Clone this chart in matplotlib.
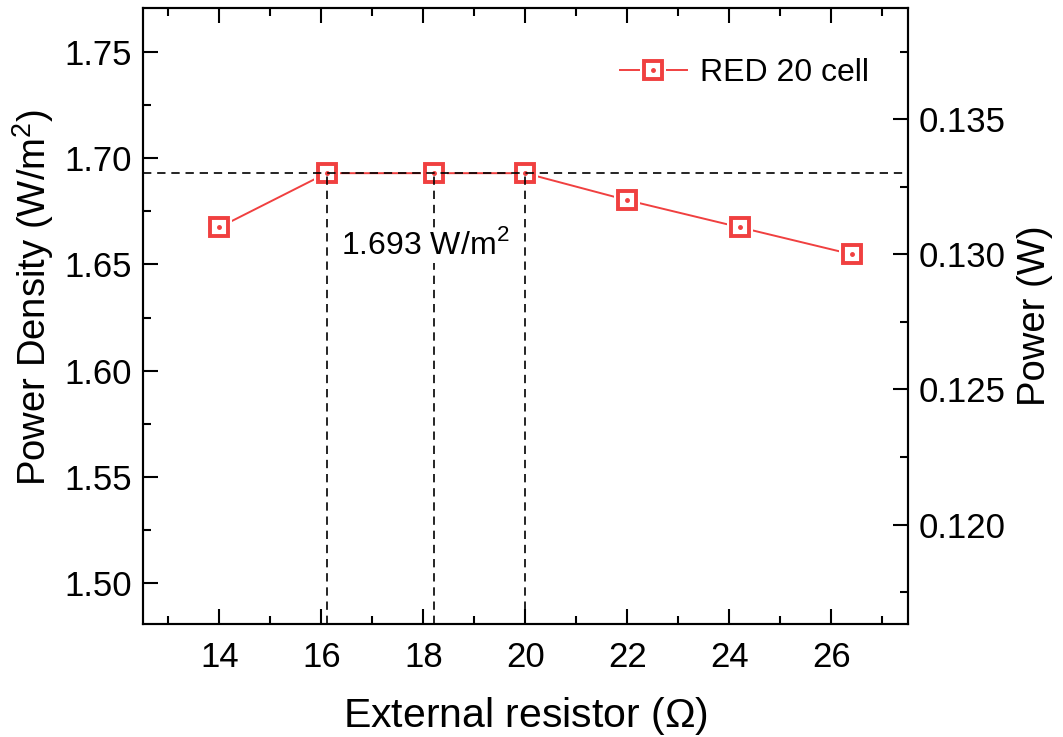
import numpy as np
import matplotlib
matplotlib.use('Agg')
import matplotlib.pyplot as plt
from matplotlib.ticker import MultipleLocator, FormatStrFormatter
from matplotlib.legend_handler import HandlerTuple

plt.rcParams['font.family'] = ['Liberation Sans', 'DejaVu Sans']
plt.rcParams['mathtext.fontset'] = 'custom'
plt.rcParams['mathtext.rm'] = 'Liberation Sans'

# data
resistor = [14, 16.1, 18.2, 20, 22, 24.2, 26.4]
power = [0.131, 0.133, 0.133, 0.133, 0.132, 0.131, 0.130]
area = 0.07856
density = [p / area for p in power]
peak_x = [16.1, 18.2, 20]
peak = 1.693

red = '#F04040'
dash = (0, (5, 3.5))

fig = plt.figure(figsize=(10.63, 7.37), dpi=100)
ax = fig.add_axes([0.1345, 0.1533, 0.7195, 0.8357])

ylim = (1.4807, 1.7707)
ax.set_xlim(12.5, 27.5)
ax.set_ylim(*ylim)

# series: line, white gap around markers, open squares, centre dots
ln, = ax.plot(resistor, density, color=red, linewidth=1.4, zorder=2)
halo, = ax.plot(resistor, density, linestyle='none', marker='s', markersize=19,
                markerfacecolor='white', markeredgewidth=0, zorder=2.5)
mk, = ax.plot(resistor, density, linestyle='none', marker='s', markersize=13,
              markerfacecolor='none', markeredgecolor=red, markeredgewidth=2.8, zorder=3)
dots, = ax.plot(resistor, density, linestyle='none', marker='o', markersize=2.5,
                color=red, zorder=3)

# dashed guides
ax.axhline(peak, color='k', linestyle=dash, linewidth=1.2, zorder=4)
ax.vlines(peak_x, ylim[0], peak, color='k', linestyle=dash, linewidth=1.2, zorder=4)

ax.text(18.03, 1.659, '1.693 W/m$^2$', fontsize=23, ha='center', va='center',
        bbox=dict(facecolor='white', edgecolor='none', pad=1), zorder=5)

ax.set_xlabel('External resistor ($\\Omega$)', fontsize=29.5, labelpad=15)
ax.set_ylabel('Power Density (W/m$^2$)', fontsize=27.5, labelpad=6, y=0.53)

ax.xaxis.set_major_locator(MultipleLocator(2))
ax.xaxis.set_minor_locator(MultipleLocator(1))
ax.yaxis.set_major_locator(MultipleLocator(0.05))
ax.yaxis.set_minor_locator(MultipleLocator(0.025))
ax.yaxis.set_major_formatter(FormatStrFormatter('%.2f'))
ax.tick_params(axis='both', which='both', direction='in', width=1.5, labelsize=25)
ax.tick_params(axis='x', which='both', top=True, pad=12)
ax.tick_params(axis='y', which='both', right=False, pad=8)
ax.tick_params(which='major', length=11)
ax.tick_params(which='minor', length=6)
for s in ax.spines.values():
    s.set_linewidth(1.5)

ax2 = ax.twinx()
ax2.set_ylim(ylim[0] * area, ylim[1] * area)
ax2.yaxis.set_major_locator(MultipleLocator(0.005))
ax2.yaxis.set_minor_locator(MultipleLocator(0.0025))
ax2.yaxis.set_major_formatter(FormatStrFormatter('%.3f'))
ax2.tick_params(axis='y', which='both', direction='in', width=1.5, labelsize=25, pad=8)
ax2.tick_params(which='major', length=11)
ax2.tick_params(which='minor', length=6)
ax2.set_ylabel('Power (W)', fontsize=27.5, labelpad=8)
for s in ax2.spines.values():
    s.set_linewidth(1.5)

ax.legend([(ln, halo, mk, dots)], ['RED 20 cell'], loc='upper right', frameon=False,
          fontsize=23, handlelength=2.1, handler_map={tuple: HandlerTuple(ndivide=1)},
          bbox_to_anchor=(0.978, 0.955), borderaxespad=0.3, handletextpad=0.4)

fig.savefig('out.png', dpi=100)
